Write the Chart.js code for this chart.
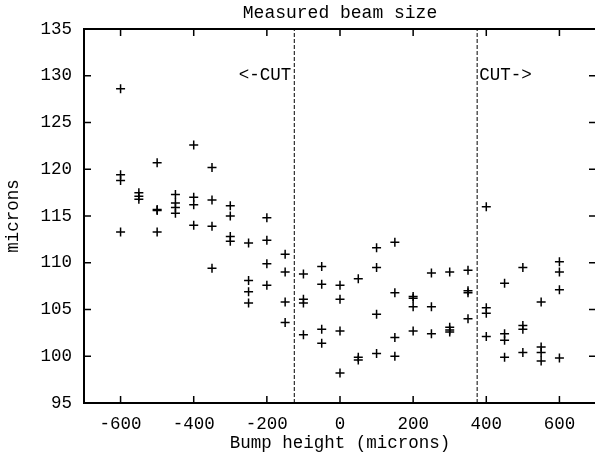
<!DOCTYPE html>
<html><head><meta charset="utf-8">
<script src="https://cdn.jsdelivr.net/npm/chart.js@4"></script>
<style>html,body{margin:0;padding:0;background:#fff;overflow:hidden;width:595px;height:452px}canvas{display:block}</style>
</head><body>
<canvas id="c" width="602" height="452" style="width:602px;height:452px"></canvas>
<script>
const bumpHeights = [-600,-550,-500,-450,-400,-350,-300,-250,-200,-150,-100,-50,0,50,100,150,200,250,300,350,400,450,500,550,600];
const beamSizes = [
  [128.6,119.4,118.8,113.3],
  [117.5,117.1,116.8],
  [120.7,115.7,115.6,113.3],
  [117.3,116.4,115.9,115.3],
  [122.6,117.0,116.2,114.0],
  [120.2,116.7,113.9,109.4],
  [116.1,115.0,112.8,112.3],
  [112.1,108.1,106.9,105.7],
  [114.8,112.4,109.9,107.6],
  [110.9,109.0,105.8,103.6],
  [108.8,106.1,105.7,102.3],
  [109.6,107.7,102.9,101.4],
  [107.6,106.1,102.7,98.2],
  [108.3,99.9,99.6],
  [111.6,109.5,104.5,100.3],
  [112.2,106.8,102.0,100.0],
  [106.4,106.2,105.3,102.7],
  [108.9,105.3,102.4],
  [109.0,103.1,102.8,102.6],
  [109.2,107.0,106.8,104.0],
  [116.0,105.2,104.6,102.1],
  [107.8,102.4,101.7,99.9],
  [109.5,103.3,102.9,100.4],
  [105.8,101.0,100.4,99.5],
  [110.1,109.0,107.1,99.8]
];
const cutPositions = [-125, 375];
const cutLabels = ['<-CUT', 'CUT->'];
const xTicks = [-600,-400,-200,0,200,400,600];
const yTicks = [95,100,105,110,115,120,125,130,135];
const xRange = [-700, 700];
const yRange = [95, 135];
const titleText = 'Measured beam size';
const xTitle = 'Bump height (microns)';
const yTitle = 'microns';

const FONT = "'Liberation Mono', 'Courier New', monospace";
Chart.defaults.font.family = FONT;
Chart.defaults.color = '#000';

const points = [];
bumpHeights.forEach((x, i) => beamSizes[i].forEach(y => points.push({x, y})));

const cutDatasets = cutPositions.map(c => ({
  type: 'line', data: [{x: c, y: yRange[0]}, {x: c, y: yRange[1]}],
  showLine: true, borderColor: '#000', borderWidth: 1, borderDash: [4, 2],
  pointRadius: 0, fill: false
}));

const framePlugin = {
  id: 'frame',
  afterDraw(chart) {
    const {ctx, chartArea: a, scales: {x, y}} = chart;
    ctx.save();
    ctx.strokeStyle = '#000';
    ctx.lineWidth = 1.5;
    const tl = 7;
    ctx.beginPath();
    xTicks.forEach(v => {
      const px = x.getPixelForValue(v);
      ctx.moveTo(px, a.bottom); ctx.lineTo(px, a.bottom - tl);
      ctx.moveTo(px, a.top); ctx.lineTo(px, a.top + tl);
    });
    yTicks.forEach(v => {
      const py = y.getPixelForValue(v);
      ctx.moveTo(a.left, py); ctx.lineTo(a.left + tl, py);
      ctx.moveTo(a.right, py); ctx.lineTo(a.right - tl, py);
    });
    ctx.stroke();
    ctx.lineWidth = 2;
    ctx.strokeRect(a.left, a.top, a.right - a.left, a.bottom - a.top);
    ctx.fillStyle = '#000';
    ctx.font = "17.5px " + FONT;
    ctx.textBaseline = 'middle';
    const ly = y.getPixelForValue(130);
    ctx.textAlign = 'right';
    ctx.fillText(cutLabels[0], x.getPixelForValue(cutPositions[0]) - 3, ly);
    ctx.textAlign = 'left';
    ctx.fillText(cutLabels[1], x.getPixelForValue(cutPositions[1]) + 2, ly);
    ctx.font = "18px " + FONT;
    ctx.textAlign = 'center';
    ctx.fillText(titleText, (a.left + a.right) / 2, 13);
    ctx.restore();
  }
};

new Chart(document.getElementById('c'), {
  type: 'scatter',
  data: {
    datasets: [{
      data: points, pointStyle: 'cross', pointRadius: 4.5, pointHoverRadius: 4.5,
      borderColor: '#000', backgroundColor: '#000', borderWidth: 1.5
    }, ...cutDatasets]
  },
  options: {
    responsive: false, animation: false, devicePixelRatio: 1,
    layout: {padding: {top: 29, right: 0, left: 0, bottom: 0}},
    plugins: {legend: {display: false}, tooltip: {enabled: false}, title: {display: false}},
    scales: {
      x: {
        type: 'linear', min: xRange[0], max: xRange[1],
        afterBuildTicks: s => { s.ticks = xTicks.map(v => ({value: v})); },
        afterFit: s => { s.height = 49; s.paddingRight = 0; s.paddingLeft = 0; },
        grid: {display: false, drawTicks: false}, border: {display: false},
        ticks: {font: {size: 17.5}, padding: 11, maxRotation: 0, autoSkip: false},
        title: {display: true, text: xTitle, font: {size: 17.5}, padding: {top: 0, bottom: -2}}
      },
      y: {
        type: 'linear', min: yRange[0], max: yRange[1],
        afterBuildTicks: s => { s.ticks = yTicks.map(v => ({value: v})); },
        afterFit: s => { s.width = 84; },
        grid: {display: false, drawTicks: false}, border: {display: false},
        ticks: {font: {size: 17.5}, padding: 12, autoSkip: false},
        title: {display: true, text: yTitle, font: {size: 17.5}, padding: {top: 3, bottom: 0}}
      }
    }
  },
  plugins: [framePlugin]
});
</script>
</body></html>
